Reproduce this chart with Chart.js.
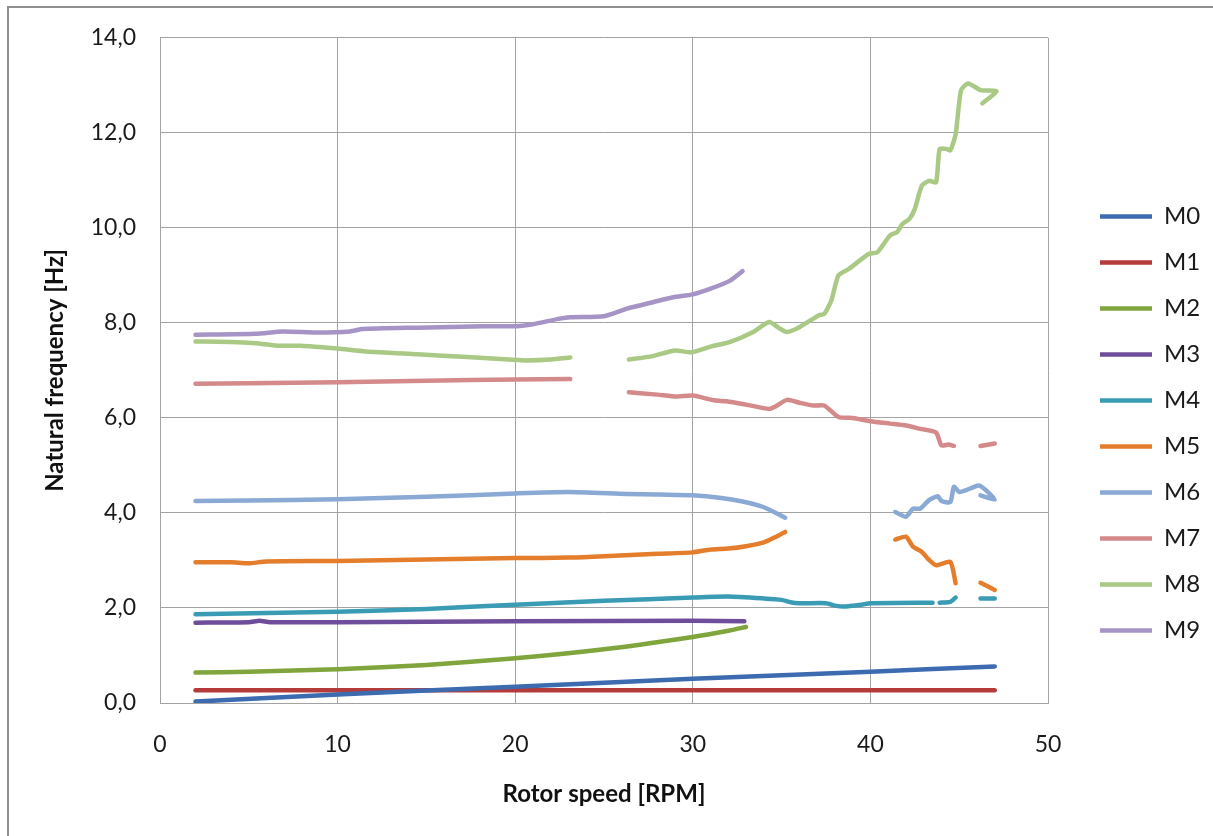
<!DOCTYPE html>
<html>
<head>
<meta charset="utf-8">
<script src="https://cdn.jsdelivr.net/npm/chart.js@4"></script>
<style>
  html, body { margin: 0; padding: 0; background: #fff; overflow: hidden; }
  #wrap { position: relative; width: 1213px; height: 836px; }
  #frame { position: absolute; left: 7px; top: 6px; width: 1220px; height: 900px; border: 2px solid #8f8f8f; pointer-events: none; }
</style>
</head>
<body>
<div id="wrap">
  <canvas id="modesChart" width="1213" height="836"></canvas>
  <div id="frame"></div>
</div>
<script>
// Mode names
const modeNames = ['M0', 'M1', 'M2', 'M3', 'M4', 'M5', 'M6', 'M7', 'M8', 'M9'];
const modeColors = ['#3c6bb0', '#b53b3a', '#7fa53c', '#6e4e9a', '#3a9bb5', '#e47e2c', '#8aa9d5', '#d48a8a', '#a9c985', '#a694c6'];

// Rotor speed [RPM] and natural frequency [Hz] for every mode (null = gap in the curve)
const speedM0 = [2, 10, 20, 30, 40, 47];
const freqM0 = [0.03, 0.18, 0.34, 0.51, 0.66, 0.77];

const speedM1 = [2, 20, 47];
const freqM1 = [0.27, 0.27, 0.27];

const speedM2 = [2, 5, 10, 15, 20, 25, 30, 32, 33];
const freqM2 = [0.64, 0.66, 0.71, 0.80, 0.94, 1.13, 1.39, 1.52, 1.60];

const speedM3 = [2, 5, 5.6, 6.2, 10, 20, 30, 32.9];
const freqM3 = [1.69, 1.70, 1.73, 1.70, 1.70, 1.72, 1.73, 1.72];

const speedM4 = [2, 10, 15, 20, 25, 30, 32, 34, 35, 35.5, 36, 37.5, 38, 38.5, 39.5, 40, 43.5, 43.7, 43.9, 44.5, 44.8, 45.5, 46.2, 47];
const freqM4 = [1.87, 1.92, 1.98, 2.07, 2.15, 2.22, 2.24, 2.20, 2.17, 2.12, 2.10, 2.10, 2.05, 2.03, 2.07, 2.10, 2.11, null, 2.11, 2.13, 2.22, null, 2.20, 2.20];

const speedM5 = [2, 4, 5, 6, 10, 15, 20, 23, 25, 28, 30, 31, 32, 33, 34, 34.7, 35.2, 38, 41.4, 42.0, 42.4, 42.9, 43.3, 43.7, 44.5, 44.8, 45.5, 46.2, 47];
const freqM5 = [2.96, 2.96, 2.94, 2.98, 2.99, 3.02, 3.05, 3.06, 3.09, 3.14, 3.17, 3.23, 3.25, 3.30, 3.38, 3.50, 3.60, null, 3.44, 3.50, 3.29, 3.18, 3.01, 2.90, 2.97, 2.52, null, 2.53, 2.38];

const speedM6 = [2, 5, 10, 15, 20, 23, 26.3, 28, 30, 31.5, 32.8, 34, 35.2, 38, 41.4, 42.0, 42.4, 42.8, 43.3, 43.8, 44.0, 44.5, 44.7, 45.0, 45.4, 46.1, 46.5, 47.0, 46.2];
const freqM6 = [4.25, 4.26, 4.29, 4.34, 4.41, 4.44, 4.40, 4.39, 4.37, 4.32, 4.24, 4.12, 3.90, null, 4.02, 3.92, 4.09, 4.09, 4.27, 4.35, 4.25, 4.23, 4.55, 4.44, 4.48, 4.58, 4.48, 4.28, 4.37];

const speedM7 = [2, 5, 10, 15, 20, 23.1, 25, 26.4, 28, 29.1, 30, 31.2, 31.9, 33, 34.3, 34.7, 35.3, 36, 36.8, 37.4, 38.2, 39, 40, 41.1, 42, 42.8, 43.7, 44.0, 44.4, 44.7, 45.5, 46.2, 47];
const freqM7 = [6.72, 6.73, 6.75, 6.78, 6.81, 6.82, null, 6.54, 6.49, 6.45, 6.47, 6.37, 6.35, 6.28, 6.19, 6.25, 6.38, 6.32, 6.26, 6.26, 6.02, 6.00, 5.93, 5.88, 5.84, 5.77, 5.69, 5.42, 5.44, 5.41, null, 5.41, 5.46];

const speedM8 = [2, 4, 5.4, 6.6, 7.9, 10, 11.6, 14.5, 17.3, 20.1, 20.6, 22, 23.1, 25, 26.4, 27.6, 29, 29.9, 31, 32.1, 33.4, 34.3, 34.9, 35.3, 36, 37.1, 37.4, 37.8, 38.2, 38.8, 39.9, 40.4, 41.1, 41.5, 41.8, 42.2, 42.5, 42.9, 43.3, 43.7, 43.9, 44.3, 44.5, 44.8, 45.1, 45.5, 46.2, 47.1, 46.3];
const freqM8 = [7.61, 7.60, 7.57, 7.52, 7.52, 7.46, 7.40, 7.34, 7.28, 7.22, 7.21, 7.23, 7.27, null, 7.23, 7.29, 7.42, 7.38, 7.50, 7.60, 7.81, 8.02, 7.88, 7.81, 7.91, 8.16, 8.19, 8.47, 9.00, 9.14, 9.45, 9.49, 9.84, 9.91, 10.08, 10.19, 10.40, 10.89, 10.99, 10.96, 11.66, 11.66, 11.63, 11.97, 12.89, 13.04, 12.90, 12.87, 12.62];

const speedM9 = [2, 5.4, 6.9, 8.8, 10.7, 11.4, 14.5, 18.2, 20.1, 21, 22.5, 23.1, 25, 26.3, 27.8, 28.9, 30, 31, 32.1, 32.8];
const freqM9 = [7.75, 7.77, 7.82, 7.80, 7.82, 7.87, 7.90, 7.93, 7.93, 7.97, 8.09, 8.12, 8.14, 8.30, 8.44, 8.54, 8.60, 8.72, 8.89, 9.09];

const allSpeeds = [speedM0, speedM1, speedM2, speedM3, speedM4, speedM5, speedM6, speedM7, speedM8, speedM9];
const allFreqs = [freqM0, freqM1, freqM2, freqM3, freqM4, freqM5, freqM6, freqM7, freqM8, freqM9];

// Build datasets from the arrays above
const datasets = modeNames.map(function (name, i) {
  return {
    label: name,
    data: allSpeeds[i].map(function (s, j) { return { x: s, y: allFreqs[i][j] }; }),
    borderColor: modeColors[i],
    backgroundColor: modeColors[i],
    borderWidth: 4.5,
    borderCapStyle: 'round',
    borderJoinStyle: 'round',
    pointRadius: 0,
    pointHoverRadius: 0,
    pointStyle: 'line',
    tension: 0.2,
    spanGaps: false
  };
});

// Legend sits a bit away from the plot, like in the Excel original
const legendPlace = {
  id: 'legendPlace',
  beforeLayout(chart) {
    const lg = chart.legend;
    if (lg && !lg._patched) {
      const fit = lg.fit.bind(lg);
      lg.fit = function () { fit(); this.width = 165; };
      lg._patched = true;
    }
  },
  afterLayout(chart) {
    chart.legend.left = 1078;
    chart.legend.top -= 13;
    chart.legend.bottom -= 13;
  }
};

const fontFamily = 'Lato, "Open Sans", sans-serif';
const gridColor = '#a3a3a3';

const ctx = document.getElementById('modesChart');
const modesChart = new Chart(ctx, {
  type: 'line',
  data: { datasets: datasets },
  plugins: [legendPlace],
  options: {
    responsive: false,
    animation: false,
    events: [],
    layout: { padding: { top: 37, left: 0, right: 0, bottom: 0 } },
    scales: {
      x: {
        type: 'linear',
        min: 0,
        max: 50,
        ticks: { stepSize: 10, padding: 28, color: '#1a1a1a', font: { family: fontFamily, size: 23 } },
        grid: { color: gridColor, lineWidth: 1, drawTicks: false },
        border: { color: gridColor, width: 1 },
        title: {
          display: true,
          text: 'Rotor speed [RPM]',
          color: '#111',
          font: { family: fontFamily, size: 24, weight: 'bold' },
          padding: { top: 0, bottom: 27 }
        },
        afterFit(scale) { scale.height = 133; }
      },
      y: {
        min: 0,
        max: 14,
        ticks: {
          stepSize: 2,
          padding: 24,
          color: '#1a1a1a',
          font: { family: fontFamily, size: 23 },
          callback: function (value) { return value.toFixed(1).replace('.', ','); }
        },
        grid: { color: gridColor, lineWidth: 1, drawTicks: false },
        border: { color: gridColor, width: 1 },
        title: {
          display: true,
          text: 'Natural frequency [Hz]',
          color: '#111',
          font: { family: fontFamily, size: 24, weight: 'bold' },
          padding: { top: 41, bottom: 0 }
        },
        afterFit(scale) { scale.width = 160; }
      }
    },
    plugins: {
      legend: {
        position: 'right',
        labels: {
          usePointStyle: true,
          pointStyleWidth: 52,
          padding: 22,
          color: '#1a1a1a',
          font: { family: fontFamily, size: 24 }
        }
      },
      tooltip: { enabled: false }
    }
  }
});
</script>
</body>
</html>
